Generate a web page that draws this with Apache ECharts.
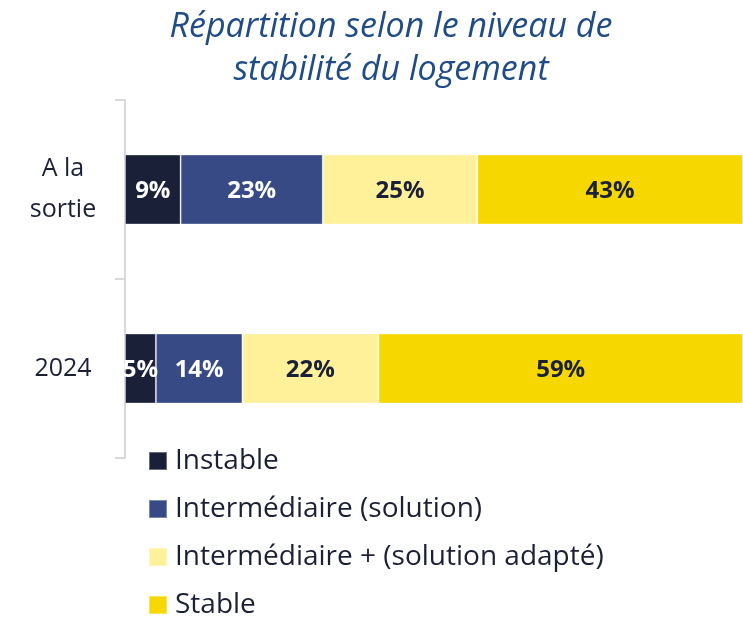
<!DOCTYPE html>
<html><head><meta charset="utf-8">
<script src="https://cdn.jsdelivr.net/npm/echarts@6/dist/echarts.min.js"></script>
<style>html,body{margin:0;padding:0;background:#fff}#c{width:743px;height:618px}</style>
</head><body><div id="c"></div>
<script>
const categories = ['A la\nsortie', '2024'];
const seriesNames = ['Instable', 'Intermédiaire (solution)', 'Intermédiaire + (solution adapté)', 'Stable'];
const instable = [9, 5];
const intermediaire = [23, 14];
const intermediairePlus = [25, 22];
const stable = [43, 59];
const colors = ['#1a2038', '#374a85', '#fff09a', '#f6d800'];
const labelColors = ['#ffffff', '#ffffff', '#1a2038', '#1a2038'];
const values = [instable, intermediaire, intermediairePlus, stable];

const chart = echarts.init(document.getElementById('c'));
const font = '"Open Sans", sans-serif';
chart.setOption({
  animation: false,
  graphic: [{
    type: 'text', x: 391, y: 6,
    style: {
      text: 'Répartition selon le niveau de\nstabilité du logement',
      fill: '#1f4c86', font: 'italic 34px "Open Sans", sans-serif',
      textAlign: 'center', lineHeight: 43
    }
  }],
  legend: {
    orient: 'vertical', left: 148, top: 446, height: 220, padding: 0,
    itemWidth: 18, itemHeight: 18, itemGap: 18,
    icon: 'rect',
    textStyle: { fontFamily: font, fontSize: 28, color: '#1b2035', lineHeight: 30, padding: [0,0,0,3] },
    data: seriesNames
  },
  grid: { left: 125, right: 0, top: 100, bottom: 160 },
  xAxis: { type: 'value', min: 0, max: 100, show: false },
  yAxis: {
    type: 'category', data: categories, inverse: true,
    axisLine: { lineStyle: { color: '#d9d9d9', width: 2 } },
    axisTick: { show: true, length: 10, lineStyle: { color: '#d9d9d9', width: 2 } },
    axisLabel: { fontFamily: font, fontSize: 25, color: '#1b2035', align: 'center', margin: 62, lineHeight: 41 }
  },
  series: values.map((v, i) => ({
    name: seriesNames[i], type: 'bar', stack: 'total', barWidth: 70,
    data: v,
    itemStyle: { color: colors[i], borderColor: 'rgba(255,255,255,0.35)', borderWidth: 1 },
    label: { show: true, position: 'inside', formatter: '{c}%', fontFamily: font, fontWeight: 'bold', fontSize: 24, color: labelColors[i], offset: [0, 2] }
  }))
});
</script></body></html>
